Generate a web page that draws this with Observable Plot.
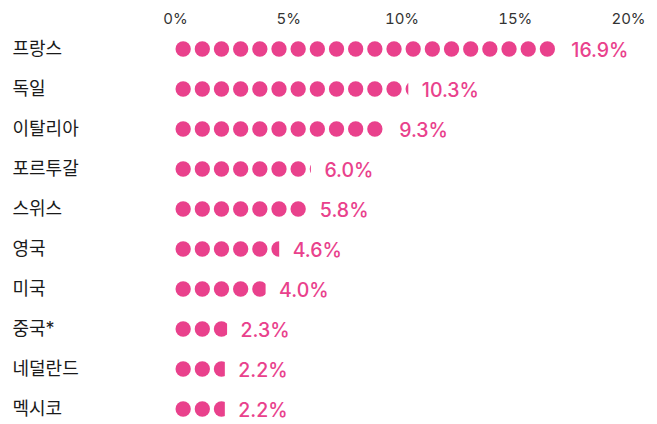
<!DOCTYPE html>
<html>
<head>
<meta charset="utf-8">
<script src="https://cdn.jsdelivr.net/npm/d3@7"></script>
<script src="https://cdn.jsdelivr.net/npm/@observablehq/plot@0.6"></script>
<style>
  html, body { margin: 0; padding: 0; background: #fff; }
  #chart svg { display: block; }
</style>
</head>
<body>
<div id="chart"></div>
<script>
const countries = ["프랑스", "독일", "이탈리아", "포르투갈", "스위스", "영국", "미국", "중국*", "네덜란드", "멕시코"];
const shares = [16.9, 10.3, 9.3, 6.0, 5.8, 4.6, 4.0, 2.3, 2.2, 2.2];
const tickValues = [0, 5, 10, 15, 20];
const tickLabels = ["0%", "5%", "10%", "15%", "20%"];

const data = countries.map((c, i) => ({country: c, value: shares[i]}));
const pink = "#e9418c";
const font = "Inter, 'Noto Sans CJK KR', sans-serif";

// dot geometry (in % units of the x scale): pitch and radius
const W = 657, mL = 175, mR = 29;
const pxPerUnit = (W - mL - mR) / 20;
const dotPitch = 19.17 / pxPerUnit;
const dotR = 7.65;
const dotRUnits = dotR / pxPerUnit;

// one dot per pitch while its left edge is inside the bar
const dots = data.flatMap((d) => {
  const n = Math.ceil(d.value / dotPitch - 1e-9);
  return d3.range(n).map((k) => ({country: d.country, x: k * dotPitch + dotRUnits}));
});

const chart = Plot.plot({
  width: W,
  height: 424,
  marginTop: 33,
  marginBottom: 0,
  marginLeft: mL,
  marginRight: mR,
  style: {fontFamily: font, background: "#fff"},
  x: {domain: [0, 20]},
  y: {domain: countries, paddingInner: 0.62, paddingOuter: 0.187},
  marks: [
    Plot.axisX({
      anchor: "top",
      ticks: tickValues,
      tickFormat: (d) => tickLabels[tickValues.indexOf(d)],
      tickSize: 0,
      tickPadding: 10,
      fontSize: 15,
      fill: "#333",
      label: null
    }),
    Plot.axisY({
      tickSize: 0,
      tickPadding: 163,
      textAnchor: "start",
      fontSize: 18,
      fill: "#1a1a1a",
      label: null
    }),
    Plot.dot(dots, {
      x: "x",
      y: "country",
      r: dotR,
      fill: pink,
      stroke: null
    }),
    // mask the overflow of the last (partial) dot beyond the bar end
    Plot.barX(data, {
      y: "country",
      x1: "value",
      x2: (d) => d.value + dotPitch,
      fill: "white",
      insetTop: -3,
      insetBottom: -3
    }),
    Plot.text(data, {
      y: "country",
      x: "value",
      text: (d) => d.value.toFixed(1) + "%",
      textAnchor: "start",
      dx: 13,
      dy: 1.5,
      fontSize: 19.5,
      fontWeight: 500,
      fill: pink
    })
  ]
});

document.getElementById("chart").appendChild(chart);
</script>
</body>
</html>
